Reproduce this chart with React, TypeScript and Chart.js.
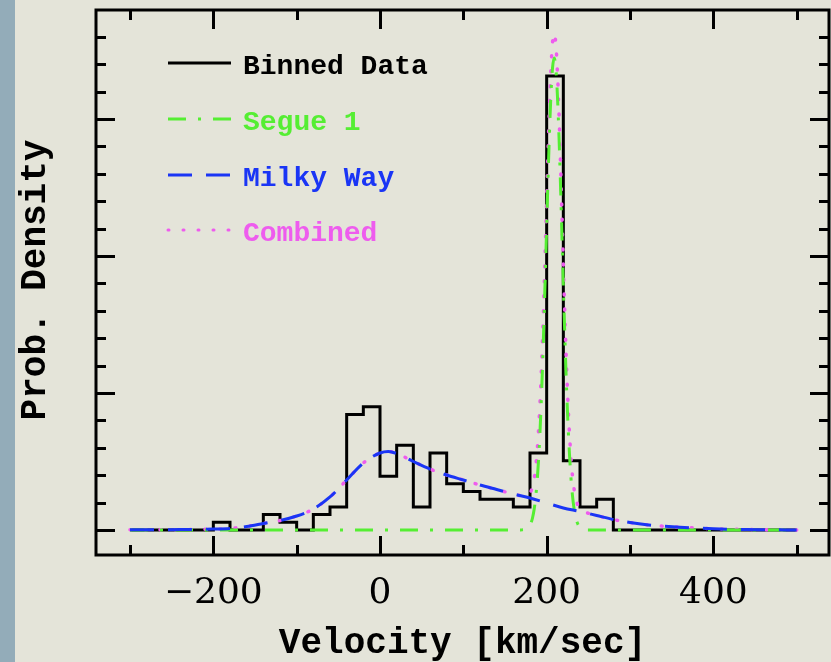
import React, { useEffect, useRef } from "react";
import { Chart, registerables } from "chart.js";

Chart.register(...registerables);

// ---------- data (velocity in km/s, density in 10^-3 per km/s) ----------
const BIN_START = -300;
const BIN_WIDTH = 20;
// star counts per 20 km/s bin, from -300 to 500
const binCounts = [
  0, 0, 0, 0, 0, 1, 0, 0, 2, 1,
  0, 2, 3, 15, 16, 7, 11, 3, 10, 6,
  5, 4, 4, 3, 10, 59, 9, 3, 4, 0,
  0, 0, 0, 0, 0, 0, 0, 0, 0, 0,
];

const mwVelocity = [
  -300, -280, -260, -240, -220, -200, -180, -160, -140, -120, -100, -80, -60, -40, -20,
  0, 10, 20, 40, 60, 80, 100, 120, 140, 160, 180, 200, 220, 240, 260, 280, 300,
  320, 340, 360, 380, 400, 420, 440, 460, 480, 500,
];
const mwDensity = [
  0.007, 0.007, 0.011, 0.015, 0.022, 0.033, 0.058, 0.128, 0.237, 0.347, 0.511, 0.766, 1.205, 1.825, 2.445,
  2.81, 2.865, 2.792, 2.5, 2.226, 2.007, 1.825, 1.642, 1.478, 1.314, 1.168, 0.985, 0.803, 0.675, 0.529, 0.383, 0.274,
  0.19, 0.139, 0.102, 0.073, 0.047, 0.029, 0.018, 0.011, 0.005, 0.004,
];

const segueVelocity = [
  -300, 169, 171, 173, 175, 177, 179, 181, 183, 185, 187, 189, 191, 193, 195, 197, 199,
  201, 203, 205, 207, 209, 211, 213, 215, 217, 219, 221, 223, 225, 227, 229, 231, 233,
  235, 237, 239, 241, 243, 245, 247, 249, 500,
];
const segueDensity = [
  0, 0, 0.007, 0.015, 0.033, 0.066, 0.13, 0.245, 0.438, 0.755, 1.248, 1.967, 2.967, 4.292, 5.942, 7.891, 10.007,
  12.179, 14.179, 15.796, 16.854, 17.226, 16.854, 15.796, 14.179, 12.179, 10.007, 7.891, 5.942, 4.292, 2.967, 1.967, 1.248, 0.755,
  0.438, 0.245, 0.13, 0.066, 0.033, 0.015, 0.007, 0, 0,
];

const combinedVelocity = [
  -300, -280, -260, -240, -220, -200, -180, -160, -140, -120, -100, -80, -60, -40, -20,
  0, 10, 20, 40, 60, 80, 100, 120, 140, 160,
  171, 173, 175, 177, 179, 181, 183, 185, 187, 189, 191, 193, 195, 197, 199,
  201, 203, 205, 207, 209, 211, 213, 215, 217, 219, 221, 223, 225, 227, 229,
  231, 233, 235, 237, 239, 241, 243, 245, 247,
  260, 280, 300, 320, 340, 360, 380, 400, 420, 440, 460, 480, 500,
];
const combinedDensity = [
  0.007, 0.007, 0.011, 0.015, 0.022, 0.033, 0.058, 0.128, 0.237, 0.347, 0.511, 0.766, 1.205, 1.825, 2.445,
  2.81, 2.865, 2.792, 2.5, 2.226, 2.007, 1.825, 1.642, 1.478, 1.314,
  1.241, 1.234, 1.237, 1.256, 1.306, 1.403, 1.578, 1.878, 2.352, 3.053, 4.035, 5.341, 6.973, 8.903, 11.002,
  13.155, 15.137, 16.735, 17.776, 18.13, 17.739, 16.662, 15.027, 13.009, 10.819, 8.686, 6.725, 5.062, 3.724, 2.712,
  1.98, 1.474, 1.144, 0.938, 0.81, 0.737, 0.693, 0.661, 0.639,
  0.529, 0.383, 0.274, 0.19, 0.139, 0.102, 0.073, 0.047, 0.029, 0.018, 0.011, 0.005, 0.004,
];

const xTickValues = [-200, 0, 200, 400];
const xMinorTickValues = [-300, -100, 100, 300, 500];
const legendLabels = ["Binned Data", "Segue 1", "Milky Way", "Combined"];
const xTitle = "Velocity [km/sec]";
const yTitle = "Prob. Density";

// ---------- styles ----------
const BG = "#e4e4d9";
const STRIP = "#93acb9";
const BLACK = "#000000";
const GREEN = "#55ee33";
const BLUE = "#1a35f5";
const PINK = "#ee5cee";
const MONO = "'Liberation Mono', 'DejaVu Sans Mono', monospace";
const SERIF = "'DejaVu Serif', serif";

const styles = [
  { color: BLACK, dash: [] as number[], cap: "butt" as CanvasLineCap },
  { color: GREEN, dash: [18, 12, 3, 12], cap: "butt" as CanvasLineCap },
  { color: BLUE, dash: [24, 14], cap: "butt" as CanvasLineCap },
  { color: PINK, dash: [1, 14], cap: "round" as CanvasLineCap },
];

const X_MIN = -340.8;
const X_MAX = 538.8;
const Y_MIN = -0.912;
const Y_MAX = 18.978;

const decorPlugin = {
  id: "decor",
  beforeDraw(chart: any) {
    const ctx = chart.ctx as CanvasRenderingContext2D;
    ctx.save();
    ctx.fillStyle = BG;
    ctx.fillRect(0, 0, chart.width, chart.height);
    ctx.fillStyle = STRIP;
    ctx.fillRect(0, 0, 15, chart.height);
    ctx.restore();
  },
  afterDatasetsDraw(chart: any) {
    const ctx = chart.ctx as CanvasRenderingContext2D;
    const { left, right, top, bottom } = chart.chartArea;
    const xs = chart.scales.x;
    const ys = chart.scales.y;
    ctx.save();
    ctx.strokeStyle = BLACK;
    ctx.lineWidth = 3;
    ctx.lineCap = "butt";
    ctx.beginPath();
    ctx.rect(left, top, right - left, bottom - top);
    ctx.stroke();
    ctx.beginPath();
    const xt = [...xTickValues.map((v) => [v, 19]), ...xMinorTickValues.map((v) => [v, 10])];
    for (const [v, len] of xt) {
      const px = Math.round(xs.getPixelForValue(v)) + 0.5;
      ctx.moveTo(px, bottom);
      ctx.lineTo(px, bottom - len);
      ctx.moveTo(px, top);
      ctx.lineTo(px, top + len);
    }
    for (let k = 0; k <= 18; k++) {
      const len = k % 5 === 0 ? 19 : 10;
      const py = Math.round(ys.getPixelForValue(k)) + 0.5;
      ctx.moveTo(left, py);
      ctx.lineTo(left + len, py);
      ctx.moveTo(right, py);
      ctx.lineTo(right - len, py);
    }
    ctx.stroke();
    ctx.restore();
  },
  afterDraw(chart: any) {
    const ctx = chart.ctx as CanvasRenderingContext2D;
    const { left, right } = chart.chartArea;
    const xs = chart.scales.x;
    ctx.save();
    // tick labels
    ctx.fillStyle = BLACK;
    ctx.font = `36px ${SERIF}`;
    ctx.textAlign = "center";
    ctx.textBaseline = "alphabetic";
    for (const v of xTickValues) {
      const label = v < 0 ? "\u2212" + Math.abs(v) : String(v);
      ctx.fillText(label, xs.getPixelForValue(v), 603);
    }
    // axis titles
    ctx.font = `bold 36px ${MONO}`;
    ctx.fillText(xTitle, (left + right) / 2, 653);
    ctx.save();
    ctx.translate(45, 280);
    ctx.rotate(-Math.PI / 2);
    ctx.fillText(yTitle, 0, 0);
    ctx.restore();
    // legend
    const rows = [63, 119, 175, 230];
    ctx.font = `bold 28px ${MONO}`;
    ctx.textAlign = "left";
    legendLabels.forEach((label, i) => {
      const st = styles[i];
      const y = rows[i];
      ctx.beginPath();
      ctx.strokeStyle = st.color;
      ctx.lineWidth = 3;
      ctx.lineCap = st.cap;
      ctx.setLineDash(st.dash);
      ctx.moveTo(168, y);
      ctx.lineTo(231, y);
      ctx.stroke();
      ctx.setLineDash([]);
      ctx.fillStyle = st.color;
      ctx.fillText(label, 243, y + 11);
    });
    ctx.restore();
  },
};

export default function App() {
  const ref = useRef<HTMLCanvasElement | null>(null);

  useEffect(() => {
    document.body.style.margin = "0";
    document.body.style.background = BG;
    const canvas = ref.current;
    if (!canvas) return;
    const total = binCounts.reduce((a, b) => a + b, 0);
    const histData = binCounts.map((c, i) => ({
      x: BIN_START + i * BIN_WIDTH,
      y: (c / (total * BIN_WIDTH)) * 1000,
    }));
    histData.push({ x: BIN_START + binCounts.length * BIN_WIDTH, y: 0 });

    const toPts = (xs: number[], ys: number[]) => xs.map((x, i) => ({ x, y: ys[i] }));

    const chart = new Chart(canvas, {
      type: "scatter",
      data: {
        datasets: [
          {
            label: legendLabels[0],
            data: histData,
            showLine: true,
            stepped: "before",
            borderColor: BLACK,
            borderWidth: 3,
            pointRadius: 0,
            order: 4,
          },
          {
            label: legendLabels[3],
            data: toPts(combinedVelocity, combinedDensity),
            showLine: true,
            borderColor: PINK,
            borderWidth: 3.5,
            borderDash: styles[3].dash,
            borderCapStyle: "round",
            cubicInterpolationMode: "monotone",
            pointRadius: 0,
            order: 3,
          },
          {
            label: legendLabels[1],
            data: toPts(segueVelocity, segueDensity),
            showLine: true,
            borderColor: GREEN,
            borderWidth: 3,
            borderDash: styles[1].dash,
            cubicInterpolationMode: "monotone",
            pointRadius: 0,
            order: 2,
          },
          {
            label: legendLabels[2],
            data: toPts(mwVelocity, mwDensity),
            showLine: true,
            borderColor: BLUE,
            borderWidth: 3,
            borderDash: styles[2].dash,
            cubicInterpolationMode: "monotone",
            pointRadius: 0,
            order: 1,
          },
        ],
      },
      options: {
        responsive: false,
        maintainAspectRatio: false,
        animation: false,
        events: [],
        layout: { padding: { left: 96, top: 10, right: 2, bottom: 107 } },
        scales: {
          x: { type: "linear", min: X_MIN, max: X_MAX, display: false },
          y: { type: "linear", min: Y_MIN, max: Y_MAX, display: false },
        },
        plugins: {
          legend: { display: false },
          tooltip: { enabled: false },
        },
      },
      plugins: [decorPlugin],
    } as any);
    return () => chart.destroy();
  }, []);

  return <canvas ref={ref} width={831} height={662} style={{ display: "block" }} />;
}
